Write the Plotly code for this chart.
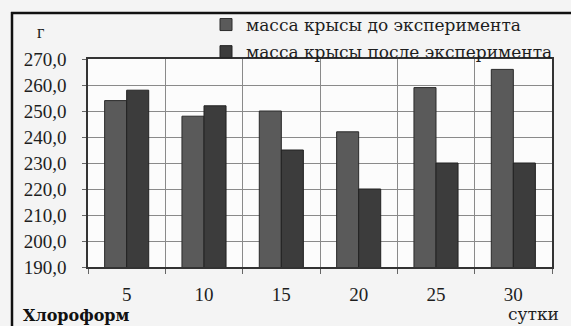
import plotly.graph_objects as go

days = ["5", "10", "15", "20", "25", "30"]
mass_before = [254, 248, 250, 242, 259, 266]
mass_after = [258, 252, 235, 220, 230, 230]
name_before = "масса крысы до эксперимента"
name_after = "масса крысы после эксперимента"
y_ticks = [190, 200, 210, 220, 230, 240, 250, 260, 270]

W, H = 571, 326
L, R, T, B = 88, 19, 59, 59
SERIF = "Liberation Serif"
WIDE = "DejaVu Serif"
INK = "#1e1e1e"


def px_x(x):
    return (x - L) / (W - L - R)


def px_y(y):
    return 1 - (y - T) / (H - T - B)


fig = go.Figure()
fig.add_trace(go.Bar(
    x=days, y=mass_before, name=name_before, legendgroup="a",
    marker=dict(color="#5a5a5a", line=dict(color="#2a2a2a", width=1)),
))
fig.add_trace(go.Bar(
    x=days, y=mass_after, name=name_after, legendgroup="b",
    marker=dict(color="#3c3c3c", line=dict(color="#222222", width=1)),
))

fig.update_layout(
    width=W, height=H,
    margin=dict(l=L, r=R, t=T, b=B, autoexpand=False),
    paper_bgcolor="#f4f4f4",
    plot_bgcolor="#fcfcfc",
    separators=", ",
    barmode="group",
    bargap=0.43,
    bargroupgap=0,
    font=dict(family=SERIF, size=17, color=INK),
    showlegend=True,
    legend=dict(
        x=px_x(206), y=px_y(7), xanchor="left", yanchor="top",
        bgcolor="rgba(0,0,0,0)", font=dict(family=WIDE, size=17, color=INK),
        traceorder="grouped", tracegroupgap=2,
        itemclick=False, itemdoubleclick=False,
    ),
    xaxis=dict(
        type="category", tickson="boundaries",
        showgrid=True, gridcolor="#8a8a8a", gridwidth=1,
        ticks="outside", ticklen=5, tickcolor="#666666",
        showline=True, linecolor="#333333", linewidth=1.5, mirror=True,
        tickfont=dict(family=SERIF, size=19, color=INK),
        ticklabelstandoff=9,
    ),
    yaxis=dict(
        range=[190, 270], tickvals=y_ticks, tickformat=".1f",
        showgrid=True, gridcolor="#8a8a8a", gridwidth=1,
        ticks="outside", ticklen=4, tickcolor="#666666",
        showline=True, linecolor="#333333", linewidth=1.5, mirror=True,
        tickfont=dict(family=SERIF, size=19, color=INK),
        ticklabelstandoff=12,
        zeroline=False,
    ),
)

# outer frame around the whole figure
fig.add_shape(type="line", xref="paper", yref="paper",
              x0=px_x(11), x1=px_x(575), y0=px_y(13), y1=px_y(13),
              line=dict(color="#111111", width=2.5))
fig.add_shape(type="line", xref="paper", yref="paper",
              x0=px_x(12), x1=px_x(12), y0=px_y(12), y1=px_y(330),
              line=dict(color="#111111", width=2.5))

fig.add_annotation(text="г", xref="paper", yref="paper",
                   x=px_x(40), y=px_y(32), xanchor="center", yanchor="middle",
                   showarrow=False, font=dict(family=SERIF, size=18, color=INK))
fig.add_annotation(text="<b>Хлороформ</b>", xref="paper", yref="paper",
                   x=px_x(21), y=px_y(315), xanchor="left", yanchor="middle",
                   showarrow=False, font=dict(family=WIDE, size=16, color="#111111"))
fig.add_annotation(text="сутки", xref="paper", yref="paper",
                   x=px_x(561), y=px_y(314), xanchor="right", yanchor="middle",
                   showarrow=False, font=dict(family=WIDE, size=17, color=INK))

fig.write_html("out.html")
